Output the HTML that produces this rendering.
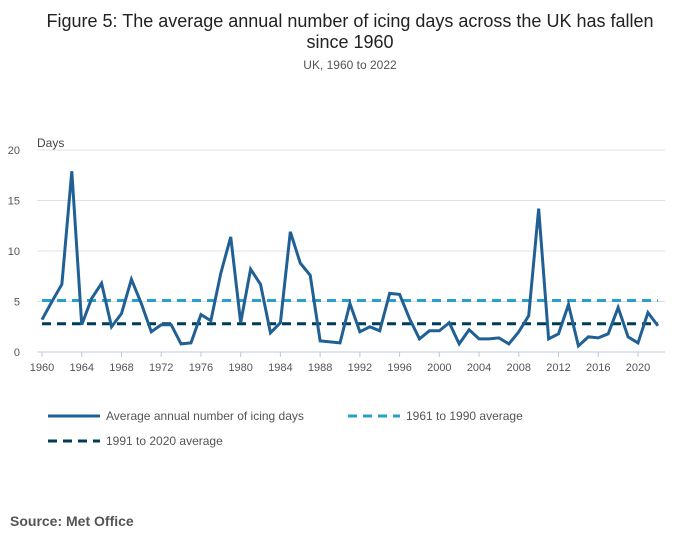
<!DOCTYPE html>
<html><head><meta charset="utf-8"><style>
body{margin:0;background:#fff;font-family:"Liberation Sans",sans-serif;}
svg{display:block}
</style></head><body>
<svg id="c" width="700" height="549">
<text x="350" y="27" text-anchor="middle" font-size="18" fill="#222">Figure 5: The average annual number of icing days across the UK has fallen</text>
<text x="350" y="48" text-anchor="middle" font-size="18" fill="#222">since 1960</text>
<text x="350" y="69" text-anchor="middle" font-size="12" fill="#555">UK, 1960 to 2022</text>
<text x="37" y="147" font-size="12" fill="#444">Days</text>
<g id="grid"></g><g id="marks"></g>
<g>
<line x1="48" y1="416" x2="100" y2="416" stroke="#206095" stroke-width="3"/>
<text x="106" y="420" font-size="12" fill="#555">Average annual number of icing days</text>
<line x1="348" y1="416" x2="400" y2="416" stroke="#27a0cc" stroke-width="3" stroke-dasharray="9,6"/>
<text x="406" y="420" font-size="12" fill="#555">1961 to 1990 average</text>
<line x1="48" y1="441" x2="100" y2="441" stroke="#003c57" stroke-width="3" stroke-dasharray="9,6"/>
<text x="106" y="445" font-size="12" fill="#555">1991 to 2020 average</text>
</g>
<text x="10" y="526" font-size="14" font-weight="bold" fill="#555">Source: Met Office</text>
</svg>
<script>
const years=[];for(let y=1960;y<=2022;y++)years.push(y);
const values=[3.2,5.0,6.7,17.9,2.7,5.3,6.8,2.5,3.8,7.2,4.8,2.0,2.7,2.7,0.8,0.9,3.7,3.1,7.8,11.4,2.9,8.2,6.7,1.9,2.9,11.9,8.8,7.6,1.1,1.0,0.9,4.8,2.0,2.5,2.1,5.8,5.7,3.3,1.3,2.1,2.1,2.9,0.8,2.2,1.3,1.3,1.4,0.8,2.0,3.6,14.2,1.3,1.8,4.7,0.6,1.5,1.4,1.8,4.4,1.5,0.9,3.9,2.6];
const avg6190=[5.1];
const avg9120=[2.8];
const yTicks=[0,5,10,15,20];
const xTicks=[1960,1964,1968,1972,1976,1980,1984,1988,1992,1996,2000,2004,2008,2012,2016,2020];
const NS="http://www.w3.org/2000/svg";
const X=y=>42+(y-1960)*(596/60);
const Y=v=>352-v*10.1;
function mk(t,a,p){const e=document.createElementNS(NS,t);for(const k in a)e.setAttribute(k,a[k]);p.appendChild(e);return e;}
const g=document.getElementById('grid'),m=document.getElementById('marks');
yTicks.forEach(v=>{
 const l=mk('line',{x1:37,x2:665,y1:Y(v),y2:Y(v),stroke:v?'#e0e0e0':'#b8c8e0'},g);
 
 
 const t=mk('text',{x:20,y:Y(v)+4,'text-anchor':'end','font-size':11,fill:'#555'},g);t.textContent=v;
 
 
});
xTicks.forEach(y=>{
 const l=mk('line',{x1:X(y),x2:X(y),y1:352,y2:357,stroke:'#b8c8e0'},g);
 
 
 const t=mk('text',{x:X(y),y:371,'text-anchor':'middle','font-size':11,fill:'#555'},g);t.textContent=y;
 
 
});
const a1=mk('line',{x1:X(1960),x2:X(2022),y1:Y(avg6190[0]),y2:Y(avg6190[0]),stroke:'#27a0cc','stroke-width':3,'stroke-dasharray':'9,6'},m);


const a2=mk('line',{x1:X(1960),x2:X(2022),y1:Y(avg9120[0]),y2:Y(avg9120[0]),stroke:'#003c57','stroke-width':3,'stroke-dasharray':'9,6'},m);


const p=mk('polyline',{points:years.map((y,i)=>X(y)+','+Y(values[i])).join(' '),fill:'none',stroke:'#206095','stroke-width':3,'stroke-linejoin':'miter'},m);


</script>
</body></html>
